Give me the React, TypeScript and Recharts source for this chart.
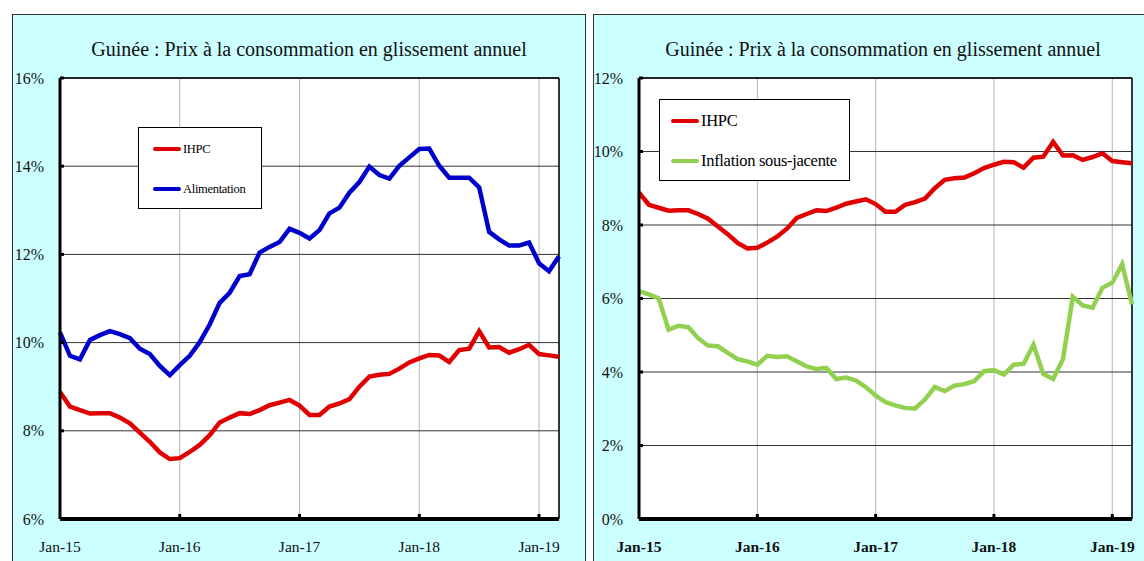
import { CartesianGrid, Line, LineChart, ReferenceLine, XAxis, YAxis } from 'recharts';

const months = [
  'Jan-15', 'Feb-15', 'Mar-15', 'Apr-15', 'May-15', 'Jun-15', 'Jul-15', 'Aug-15', 'Sep-15', 'Oct-15', 'Nov-15', 'Dec-15',
  'Jan-16', 'Feb-16', 'Mar-16', 'Apr-16', 'May-16', 'Jun-16', 'Jul-16', 'Aug-16', 'Sep-16', 'Oct-16', 'Nov-16', 'Dec-16',
  'Jan-17', 'Feb-17', 'Mar-17', 'Apr-17', 'May-17', 'Jun-17', 'Jul-17', 'Aug-17', 'Sep-17', 'Oct-17', 'Nov-17', 'Dec-17',
  'Jan-18', 'Feb-18', 'Mar-18', 'Apr-18', 'May-18', 'Jun-18', 'Jul-18', 'Aug-18', 'Sep-18', 'Oct-18', 'Nov-18', 'Dec-18',
  'Jan-19', 'Feb-19', 'Mar-19'
];

const ihpc = [
  8.88, 8.55, 8.47, 8.39, 8.4, 8.4, 8.3, 8.17, 7.96, 7.75, 7.51, 7.36,
  7.38, 7.52, 7.68, 7.9, 8.19, 8.3, 8.4, 8.38, 8.47, 8.58, 8.64, 8.7,
  8.57, 8.36, 8.36, 8.55, 8.62, 8.72, 9.0, 9.23, 9.27, 9.29, 9.41, 9.55,
  9.64, 9.72, 9.71, 9.56, 9.83, 9.86, 10.26, 9.89, 9.9, 9.77, 9.85, 9.95,
  9.74, 9.71, 9.68
];

const alimentation = [
  10.23, 9.7, 9.62, 10.06, 10.17, 10.26, 10.19, 10.1, 9.86, 9.74, 9.47, 9.26,
  9.49, 9.7, 10.01, 10.41, 10.9, 11.13, 11.51, 11.55, 12.04, 12.17, 12.28, 12.58,
  12.49, 12.36, 12.55, 12.93, 13.06, 13.4, 13.64, 13.99, 13.8, 13.72, 14.01, 14.2,
  14.39, 14.4, 14.01, 13.74, 13.74, 13.74, 13.52, 12.51, 12.34, 12.2, 12.2, 12.27,
  11.8, 11.62, 11.96
];

const sousJacente = [
  6.2, 6.11, 6.0, 5.15, 5.26, 5.22, 4.92, 4.72, 4.7, 4.52, 4.35, 4.29,
  4.2, 4.44, 4.41, 4.43, 4.29, 4.15, 4.08, 4.11, 3.81, 3.85, 3.77, 3.59,
  3.36, 3.18, 3.09, 3.02, 3.01, 3.25, 3.59, 3.48, 3.63, 3.67, 3.75, 4.02,
  4.05, 3.93, 4.2, 4.22, 4.74, 3.95, 3.81, 4.35, 6.05, 5.81, 5.75, 6.29,
  6.43, 6.93, 5.84
];

const xTicks = [0, 12, 24, 36, 48];
const leftYTicks = [6, 8, 10, 12, 14, 16];
const rightYTicks = [0, 2, 4, 6, 8, 10, 12];

const title = 'Guinée : Prix à la consommation en glissement annuel';
const font = '"Liberation Serif", "Times New Roman", serif';

const data = months.map((m, i) => ({
  idx: i,
  month: m,
  ihpc: ihpc[i],
  alimentation: alimentation[i],
  sousJacente: sousJacente[i]
}));

const YTick = (props: any) => {
  const { x, y, payload } = props;
  return (
    <g>
      <line x1={x} x2={x + 4} y1={y} y2={y} stroke="#000" strokeWidth={3} />
      <text x={x - 16} y={y} textAnchor="end" dominantBaseline="central" fontFamily={font} fontSize={16} fill="#111">
        {payload.value}%
      </text>
    </g>
  );
};

const makeXTick = (bold: boolean) => (props: any) => {
  const { x, y, payload } = props;
  return (
    <g>
      {payload.value > 0 && <line x1={x} x2={x} y1={y} y2={y - 5} stroke="#000" strokeWidth={3} />}
      <text
        x={x}
        y={y + 27}
        textAnchor="middle"
        dominantBaseline="central"
        fontFamily={font}
        fontSize={15.5}
        fontWeight={bold ? 'bold' : 'normal'}
        fill="#111"
      >
        {months[payload.value]}
      </text>
    </g>
  );
};

const LeftTick = makeXTick(false);
const RightTick = makeXTick(true);

const LegendItem = ({ color, label, width, fontSize, gap }: any) => (
  <div style={{ display: 'flex', alignItems: 'center', height: gap }}>
    <div style={{ width, height: 4, background: color, borderRadius: 2 }} />
    <span style={{ fontFamily: font, fontSize, color: '#000', marginLeft: 2, letterSpacing: -0.3 }}>{label}</span>
  </div>
);

export default function App() {
  return (
    <div style={{ position: 'absolute', left: 0, top: 0, width: 1144, height: 561, background: '#fff', overflow: 'hidden' }}>
      {/* panels */}
      <div style={{ position: 'absolute', left: 12, top: 14, width: 574, height: 560, background: '#CCFFFF', border: '1.5px solid #333', boxSizing: 'border-box' }} />
      <div style={{ position: 'absolute', left: 593, top: 14, width: 570, height: 560, background: '#CCFFFF', border: '1.5px solid #333', boxSizing: 'border-box' }} />

      <div style={{ position: 'absolute', left: 12, top: 38, width: 594, textAlign: 'center', fontFamily: font, fontSize: 20, color: '#111' }}>
        {title}
      </div>
      <div style={{ position: 'absolute', left: 593, top: 38, width: 580, textAlign: 'center', fontFamily: font, fontSize: 20, color: '#111' }}>
        {title}
      </div>

      {/* left chart */}
      <div style={{ position: 'absolute', left: 0, top: 0 }}>
        <LineChart width={580} height={561} data={data} margin={{ top: 78, right: 21, bottom: 0, left: 14 }}>
          <CartesianGrid horizontal={false} vertical stroke="#b5b5b5" fill="#fff" />
          <CartesianGrid horizontal vertical={false} stroke="#333" />
          <XAxis
            dataKey="idx"
            type="number"
            domain={[0, 50]}
            ticks={xTicks}
            height={42}
            tickSize={0}
            tickMargin={0}
            tickLine={false}
            axisLine={{ stroke: '#000', strokeWidth: 4 }}
            tick={<LeftTick />}
            interval={0}
          />
          <YAxis
            type="number"
            domain={[6, 16]}
            ticks={leftYTicks}
            width={46}
            tickSize={0}
            tickMargin={0}
            tickLine={false}
            axisLine={{ stroke: '#000', strokeWidth: 3 }}
            tick={<YTick />}
            interval={0}
          />
          <ReferenceLine y={16} stroke="#000" strokeWidth={1.5} />
          <ReferenceLine x={50} stroke="#000" strokeWidth={1.5} />
          <Line dataKey="ihpc" stroke="#E00000" strokeWidth={4.5} dot={false} isAnimationActive={false} />
          <Line dataKey="alimentation" stroke="#0000CC" strokeWidth={4.5} dot={false} isAnimationActive={false} />
        </LineChart>
      </div>

      {/* right chart */}
      <div style={{ position: 'absolute', left: 593, top: 0 }}>
        <LineChart width={551} height={561} data={data} margin={{ top: 78, right: 12, bottom: 0, left: 6 }}>
          <CartesianGrid horizontal={false} vertical stroke="#b5b5b5" fill="#fff" />
          <CartesianGrid horizontal vertical={false} stroke="#333" />
          <XAxis
            dataKey="idx"
            type="number"
            domain={[0, 50]}
            ticks={xTicks}
            height={42}
            tickSize={0}
            tickMargin={0}
            tickLine={false}
            axisLine={{ stroke: '#000', strokeWidth: 4 }}
            tick={<RightTick />}
            interval={0}
          />
          <YAxis
            type="number"
            domain={[0, 12]}
            ticks={rightYTicks}
            width={40}
            tickSize={0}
            tickMargin={0}
            tickLine={false}
            axisLine={{ stroke: '#000', strokeWidth: 3 }}
            tick={<YTick />}
            interval={0}
          />
          <ReferenceLine y={12} stroke="#000" strokeWidth={1.5} />
          <ReferenceLine x={50} stroke="#000" strokeWidth={1.5} />
          <Line dataKey="ihpc" stroke="#E00000" strokeWidth={4.5} dot={false} isAnimationActive={false} />
          <Line dataKey="sousJacente" stroke="#92D050" strokeWidth={4.5} dot={false} isAnimationActive={false} />
        </LineChart>
      </div>

      {/* legends */}
      <div style={{ position: 'absolute', left: 138, top: 127, width: 124, height: 82, background: '#fff', border: '1.5px solid #000', boxSizing: 'border-box', paddingLeft: 14, paddingTop: 1 }}>
        <LegendItem color="#E00000" label="IHPC" width={28} fontSize={12.5} gap={40} />
        <LegendItem color="#0000CC" label="Alimentation" width={28} fontSize={12.5} gap={40} />
      </div>
      <div style={{ position: 'absolute', left: 659, top: 99, width: 191, height: 82, background: '#fff', border: '1.5px solid #000', boxSizing: 'border-box', paddingLeft: 11, paddingTop: 1 }}>
        <LegendItem color="#E00000" label="IHPC" width={28} fontSize={16.5} gap={40} />
        <LegendItem color="#92D050" label="Inflation sous-jacente" width={28} fontSize={16.5} gap={40} />
      </div>
    </div>
  );
}
